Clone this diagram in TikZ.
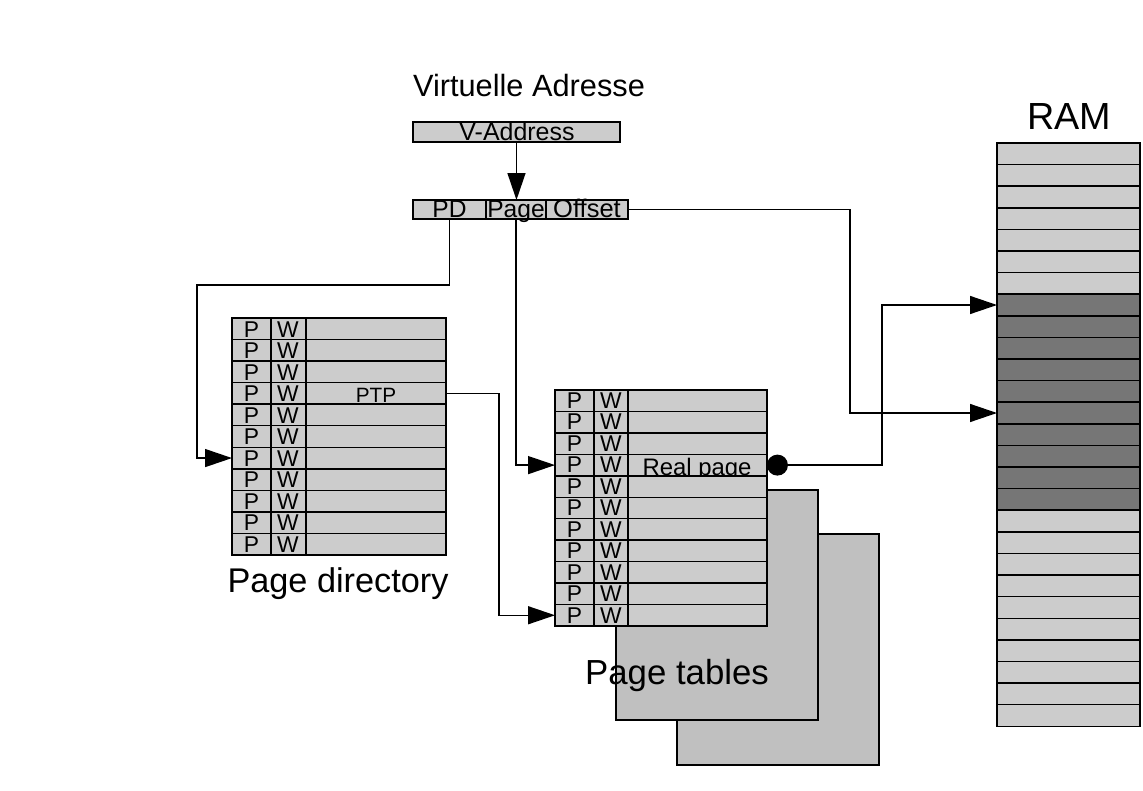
\documentclass[tikz,border=0pt]{standalone}
\usepackage{fontspec}
\setmainfont{Liberation Sans}
\usetikzlibrary{positioning,calc,arrows.meta}
\definecolor{cellgray}{HTML}{CCCCCC}
\definecolor{sheetgray}{HTML}{C0C0C0}
\definecolor{usedgray}{HTML}{767676}
\newcommand{\fs}[1]{\fontsize{#1}{#1}\selectfont}
\begin{document}
\begin{tikzpicture}[x=0.02cm, y=-0.02cm, line width=0.8pt,
  field/.style={draw, fill=cellgray, inner sep=0mm, outer sep=0mm, anchor=north west},
  row/.style={field, minimum height=0.43cm},
  txt/.style={anchor=base, inner sep=0mm},
  flag/.style={txt, font=\fs{13}},
  arr/.style={-{Triangle[length=0.54cm, width=0.36cm]}},
  dot/.style={circle, fill, minimum size=0.42cm, inner sep=0mm, outer sep=0mm}]
  \useasboundingbox (0,0) rectangle (1143,791);
  % virtual address
  \node[txt, font=\fs{17.5}] (title) at (529,96.5) {Virtuelle Adresse};
  \node[field, minimum width=4.14cm, minimum height=0.4cm] (vaddr) at (413,122) {};
  \node[txt, font=\fs{14.2}] (vtext) at (517,140) {V-Address};
  \node[field, minimum width=1.46cm, minimum height=0.38cm] (pdf) at (413,200) {};
  \node[field, minimum width=1.2cm, minimum height=0.38cm] (pagef) at (486,200) {};
  \node[field, minimum width=1.64cm, minimum height=0.38cm] (offf) at (546,200) {};
  \node[txt, font=\fs{14}] (pdtext) at (pdf.center |- 0,217.5) {PD};
  \node[txt, font=\fs{14}] (pagetext) at (pagef.center |- 0,217.5) {Page};
  \node[txt, font=\fs{14.5}] (offtext) at (offf.center |- 0,217.5) {Offset};
  % page directory
  \foreach \i/\t in {0/,1/,2/,3/PTP,4/,5/,6/,7/,8/,9/,10/} {
    \node[row, minimum width=4.28cm] (pd\i) at (232,{318+21.55*\i}) {};
    \draw (271,{318+21.55*\i}) -- ++(0,21.55) (306,{318+21.55*\i}) -- ++(0,21.55);
    \node[flag] at (251.5,{337+21.55*\i}) {P};
    \node[flag] at (288,{337+21.55*\i}) {W};
    \node[txt, font=\fs{11.8}] at (376,{337.5+21.55*\i}) {\t};
  }
  \node[txt, font=\fs{19.5}] (pdlabel) at (338,592) {Page directory};
  % page tables
  \draw[fill=sheetgray] (677,534) rectangle (879,765);
  \draw[fill=sheetgray] (616,490) rectangle (818,720);
  \foreach \i/\t in {0/,1/,2/,3/Real page,4/,5/,6/,7/,8/,9/,10/} {
    \node[row, minimum width=4.24cm] (pt\i) at (555,{390+21.45*\i}) {};
    \draw (594,{390+21.45*\i}) -- ++(0,21.45) (628,{390+21.45*\i}) -- ++(0,21.45);
    \node[flag] at (574.5,{408.5+21.45*\i}) {P};
    \node[flag] at (611,{408.5+21.45*\i}) {W};
    \node[txt, font=\fs{13.6}] at (697,{411+21.45*\i}) {\t};
  }
  \node[txt, font=\fs{19.8}] (ptlabel) at (677,684) {Page tables};
  % RAM
  \node[txt, font=\fs{21.5}] (ramlabel) at (1069,129) {RAM};
  \foreach \i in {0,...,26} {
    \ifnum\i<7 \def\c{cellgray}\else\ifnum\i<17 \def\c{usedgray}\else\def\c{cellgray}\fi\fi
    \node[row, fill=\c, minimum width=2.86cm, minimum height=0.432cm] (ram\i) at (997,{143+21.6*\i}) {};
  }
  % connectors
  \draw[arr] (vaddr.south) -- (vaddr.south |- pagef.north);
  \draw[arr] (pdf.south) |- (197,285) |- (pd6.west);
  \draw[arr] (pagef.south) |- (pt3.west);
  \draw[arr] (pd3.east) -| ($(pt10.west)+(-56,0)$) -- (pt10.west);
  \draw[arr] (offf.east) -| ($(ram12.west)+(-147,0)$) -- (ram12.west);
  \node[dot, right=0mm of pt3] (rp) {};
  \draw[arr] (rp.east) -| ($(ram7.west)+(-115,0)$) -- (ram7.west);
\end{tikzpicture}
\end{document}
